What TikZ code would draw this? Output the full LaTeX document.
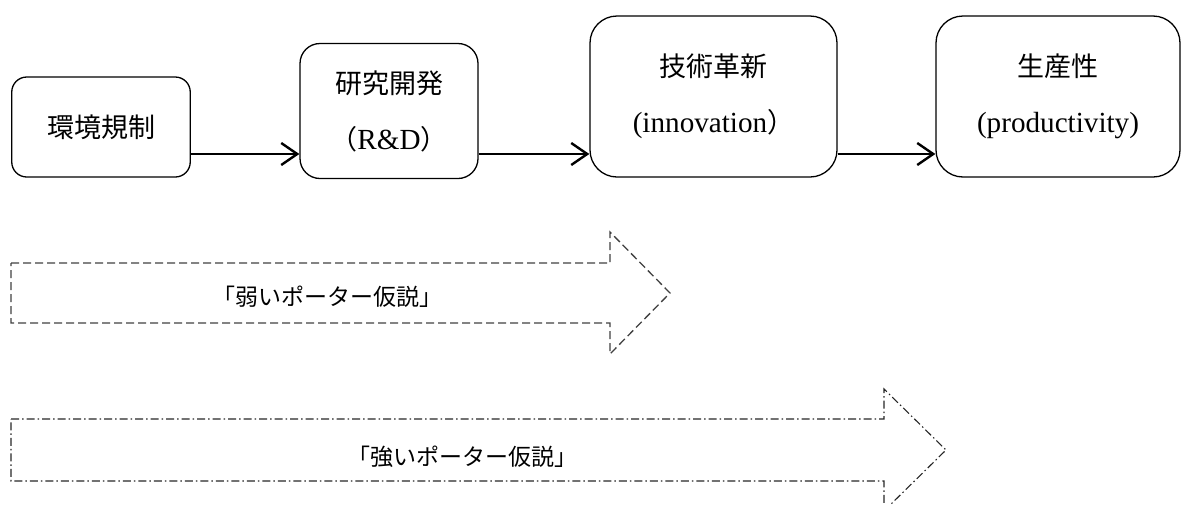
\documentclass[tikz,border=0pt]{standalone}
\usepackage{fontspec}
\setmainfont{Liberation Serif}[Scale=1.08]
\newfontfamily\jp{Noto Sans CJK JP}
\usetikzlibrary{arrows.meta}
\begin{document}
\begin{tikzpicture}[x=1pt,y=-1pt,
  stagebox/.style={draw=black,line width=1.3pt,align=center,inner sep=0pt,
    font=\fontsize{27}{56}\selectfont},
  conn/.style={line width=2.8pt,-{Straight Barb[length=16pt,width=22pt,line width=2.4pt]}},
  weakline/.style={draw=black!75,line width=1.3pt,dash pattern=on 8pt off 4pt},
  strongline/.style={draw=black!85,line width=1.1pt,dash pattern=on 8pt off 3pt on 1.5pt off 3pt},
  hyplabel/.style={font=\fontsize{23}{26}\selectfont\jp,inner sep=0pt}]
\useasboundingbox (0,0) rectangle (1184,504);
\node[stagebox,rounded corners=15pt,minimum width=178.5pt,minimum height=100pt] (b1) at (101,127) {\jp 環境規制};
\node[stagebox,rounded corners=20pt,minimum width=178pt,minimum height=135pt] (b2) at (389,111) {{\jp 研究開発}\\{\jp （}R\&D{\jp ）}};
\node[stagebox,rounded corners=27pt,minimum width=247pt,minimum height=161pt] (b3) at (713.5,96.5) {{\jp 技術革新}\\(innovation{\jp ）}};
\node[stagebox,rounded corners=27pt,minimum width=244pt,minimum height=161pt] (b4) at (1058,96.5) {{\jp 生産性}\\(productivity)};
\coordinate (ay) at (0,154);
\draw[conn] (b1.east |- ay) -- (b2.west |- ay);
\draw[conn] (b2.east |- ay) -- (b3.west |- ay);
\draw[conn] (b3.east |- ay) -- (b4.west |- ay);
\draw[weakline] (11,263) -- (610,263) -- (610,232) -- (670,293) -- (610,354) -- (610,323) -- (11,323) -- cycle;
\node[hyplabel] (weak) at (327,297) {「弱いポーター仮説」};
\draw[strongline] (11,419) -- (884,419) -- (884,389) -- (946,450) -- (884,511) -- (884,481) -- (11,481) -- cycle;
\node[hyplabel] (strong) at (462,457) {「強いポーター仮説」};
\end{tikzpicture}
\end{document}
